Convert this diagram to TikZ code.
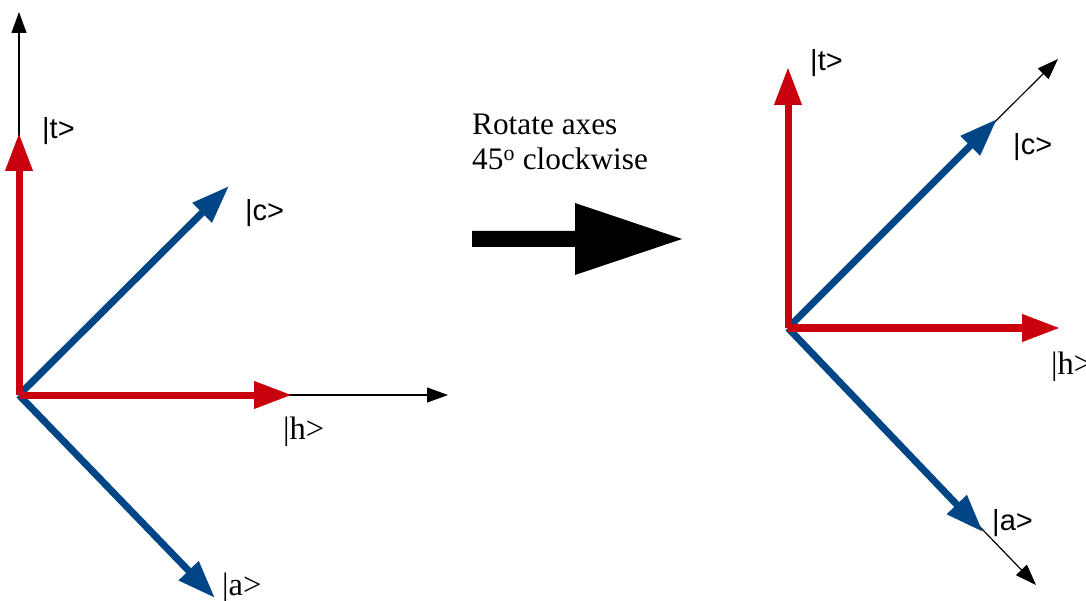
\documentclass[tikz,border=0pt]{standalone}
\usepackage{fontspec}
\setmainfont{Liberation Serif}
\newfontfamily\lsans{Liberation Sans}
\usetikzlibrary{arrows.meta}
\definecolor{vred}{HTML}{C9000E}
\definecolor{vblue}{HTML}{004586}
\tikzset{
  vec/.style={line width=7pt, -{Triangle[length=38pt,width=26pt]}},
  redvec/.style={vec, draw=vred, fill=vred},
  bluevec/.style={vec, draw=vblue, fill=vblue},
  axisline/.style={line width=1.2pt, black, -{Triangle[length=21pt,width=15pt]}},
  lbl/.style={anchor=west, inner sep=0pt, font=\fontsize{29}{34}\selectfont\lsans},
  slbl/.style={anchor=west, inner sep=0pt, font=\fontsize{32.5}{38}\selectfont},
  captxt/.style={anchor=base west, inner sep=0pt, font=\fontsize{31.3}{36}\selectfont}
}
\begin{document}
\begin{tikzpicture}[x=1pt,y=-1pt]
\useasboundingbox (0,0) rectangle (1086,601);
% left figure
\coordinate (L) at (19,395);
\coordinate (Lt) at (19,133);
\coordinate (LT) at (19,12);
\coordinate (Lh) at (292,395);
\coordinate (LH) at (448,395);
\coordinate (Lc) at (229,186);
\coordinate (La) at (215,598);
\draw[axisline] (L) -- (LT);
\draw[axisline] (L) -- (LH);
\draw[bluevec] (L) -- (Lc);
\draw[bluevec] (L) -- (La);
\draw[redvec] (L) -- (Lt);
\draw[redvec] (L) -- (Lh);
\node[lbl] (lt) at (42,131) {|t>};
\node[lbl] (lc) at (245,213) {|c>};
\node[slbl] (lh) at (283,432) {|h>};
\node[slbl] (la) at (222,588) {|a>};
% caption and big arrow
\node[captxt] (cap1) at (472,135) {Rotate axes};
\node[captxt] (cap2) at (472,170) {45\textsuperscript{o} clockwise};
\fill[black] (472,231) -- (575,231) -- (575,203) -- (682,239) -- (575,275) -- (575,247) -- (472,247) -- cycle;
% right figure
\coordinate (R) at (788,328);
\coordinate (Rt) at (788,67);
\coordinate (Rh) at (1060,328);
\coordinate (Rc) at (997,119);
\coordinate (RC) at (1058,59);
\coordinate (Ra) at (983,532);
\coordinate (RA) at (1036,585);
\draw[axisline] (R) -- (RC);
\draw[axisline] (R) -- (RA);
\draw[bluevec] (R) -- (Rc);
\draw[bluevec] (R) -- (Ra);
\draw[redvec] (R) -- (Rt);
\draw[redvec] (R) -- (Rh);
\node[lbl] (rt) at (810,63) {|t>};
\node[lbl] (rc) at (1013,147) {|c>};
\node[slbl] (rh) at (1051,367) {|h>};
\node[lbl] (ra) at (992,523) {|a>};
\end{tikzpicture}
\end{document}
